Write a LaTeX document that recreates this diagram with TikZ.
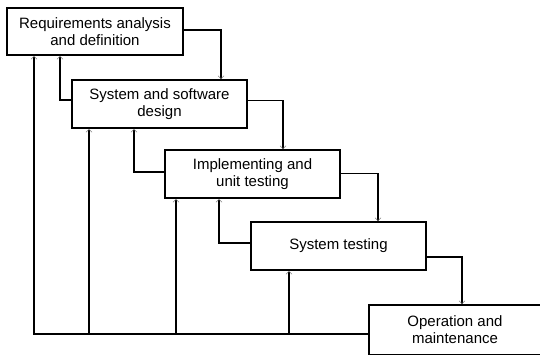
\documentclass[tikz,border=0pt]{standalone}
\usepackage{fontspec}
\setmainfont{Liberation Sans}
\usetikzlibrary{arrows.meta}
\begin{document}
\begin{tikzpicture}[x=1pt,y=-1pt,
  phase/.style={draw=black,line width=1.8pt,fill=white,minimum width=175pt,minimum height=48pt,
    inner sep=0pt,align=center,font=\fontsize{15}{17}\selectfont},
  conn/.style={draw=black,line width=1.7pt,-{Straight Barb[length=3pt,width=6pt,line width=0.5pt,color=gray]}},
  thinconn/.style={conn,line width=1.1pt},
  plain/.style={draw=black,line width=1.5pt}]
\useasboundingbox (0,0) rectangle (540,354);
\begin{scope}
\clip (0,0) rectangle (540,354);
\node[phase,minimum width=176pt,minimum height=47pt] (r) at (95,31.5) {Requirements analysis\\and definition};
\node[phase] (s) at (159.5,104) {System and software\\design};
\node[phase] (i) at (252.5,174) {Implementing and\\unit testing};
\node[phase] (t) at (338.5,246) {System testing};
\node[phase,minimum width=172pt,minimum height=49.5pt] (o) at (455,329.75) {Operation and\\maintenance};

% forward flow
\draw[conn] ([yshift=1.5pt]r.east) -| ([xshift=61.5pt]s.north);
\draw[thinconn] ([yshift=3.5pt]s.east) -| ([xshift=30.5pt]i.north);
\draw[conn] ([yshift=0.5pt]i.east) -| ([xshift=39.5pt]t.north);
\draw[conn] ([yshift=-11pt]t.east) -| ([xshift=7pt]o.north);

% feedback between neighbours
\draw[conn] ([yshift=4pt]s.west) -| ([xshift=-35pt]r.south);
\draw[conn] ([yshift=2pt]i.west) -| ([xshift=-25.5pt]s.south);
\draw[conn] ([yshift=3pt]t.west) -| ([xshift=-33.5pt]i.south);

% feedback from operation and maintenance
\coordinate (bl) at ([yshift=-4.25pt]o.west);
\draw[conn] (bl) -| ([xshift=-61pt]r.south);
\draw[conn] ([xshift=-70.5pt]s.south |- bl) -- ([xshift=-70.5pt]s.south);
\draw[conn] ([xshift=-76.5pt]i.south |- bl) -- ([xshift=-76.5pt]i.south);
\draw[conn] ([xshift=-49.5pt]t.south |- bl) -- ([xshift=-49.5pt]t.south);
\end{scope}
\end{tikzpicture}
\end{document}
